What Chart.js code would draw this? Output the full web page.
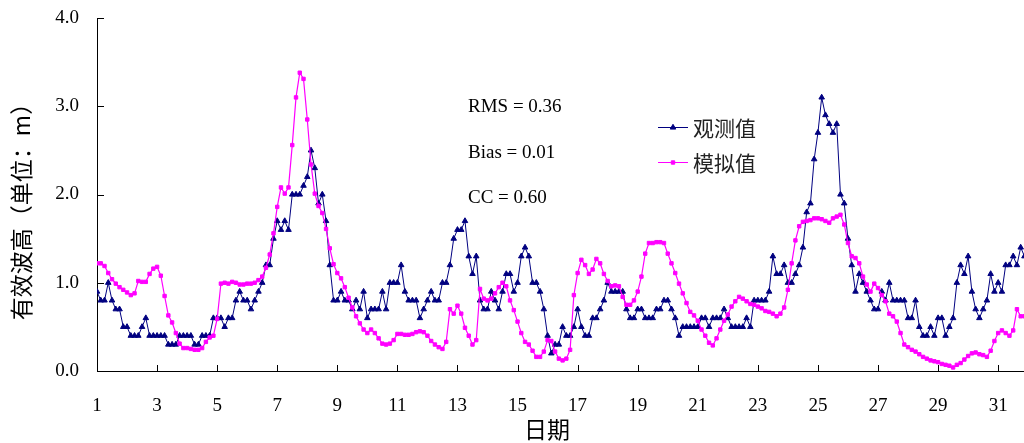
<!DOCTYPE html>
<html>
<head>
<meta charset="utf-8">
<script src="https://cdn.jsdelivr.net/npm/chart.js@4.4.1/dist/chart.umd.min.js"></script>
<style>
  html, body { margin: 0; padding: 0; background: #fff; }
  #wrap { width: 1024px; height: 443px; }
</style>
</head>
<body>
<div id="wrap"><canvas id="c" width="1024" height="443"></canvas></div>
<script>
// 3-hourly significant wave height (m), 8 samples per day starting on day 1
const observed = [
  0.9,0.8,0.8,1.0,0.8,0.7,0.7,0.5,
  0.5,0.4,0.4,0.4,0.5,0.6,0.4,0.4,
  0.4,0.4,0.4,0.3,0.3,0.3,0.4,0.4,
  0.4,0.4,0.3,0.3,0.4,0.4,0.4,0.6,
  0.6,0.6,0.5,0.6,0.6,0.8,0.9,0.8,
  0.8,0.7,0.8,0.9,1.0,1.2,1.2,1.5,
  1.7,1.6,1.7,1.6,2.0,2.0,2.0,2.1,
  2.2,2.5,2.3,1.9,2.0,1.7,1.2,0.8,
  0.8,0.9,0.8,0.8,0.7,0.8,0.7,0.9,
  0.6,0.7,0.7,0.7,0.9,0.7,1.0,1.0,
  1.0,1.2,0.9,0.8,0.8,0.8,0.6,0.7,
  0.8,0.9,0.8,0.8,1.0,1.0,1.2,1.5,
  1.6,1.6,1.7,1.3,1.1,1.3,0.8,0.7,
  0.7,0.9,0.8,0.7,0.9,1.1,1.1,0.9,
  1.0,1.3,1.4,1.3,1.0,1.0,0.9,0.7,
  0.4,0.2,0.3,0.3,0.5,0.4,0.4,0.5,
  0.7,0.5,0.4,0.4,0.6,0.6,0.7,0.8,
  1.0,0.9,0.9,0.9,0.9,0.7,0.6,0.6,
  0.7,0.7,0.6,0.6,0.6,0.7,0.7,0.8,
  0.8,0.7,0.6,0.4,0.5,0.5,0.5,0.5,
  0.5,0.6,0.6,0.5,0.6,0.6,0.6,0.7,
  0.6,0.5,0.5,0.5,0.5,0.6,0.5,0.8,
  0.8,0.8,0.8,0.9,1.3,1.1,1.1,1.2,
  1.0,1.0,1.1,1.2,1.4,1.8,1.9,2.4,
  2.7,3.1,2.9,2.8,2.7,2.8,2.0,1.9,
  1.5,1.2,0.9,1.1,1.0,0.9,0.8,0.7,
  0.7,0.9,0.8,1.0,0.8,0.8,0.8,0.8,
  0.6,0.6,0.8,0.5,0.4,0.4,0.5,0.4,
  0.6,0.6,0.4,0.5,0.6,1.0,1.2,1.1,
  1.3,0.9,0.7,0.6,0.7,0.8,1.1,0.9,
  1.0,0.9,1.2,1.2,1.3,1.2,1.4,1.3
];

const simulated = [
  1.22,1.22,1.19,1.11,1.04,0.99,0.95,0.92,
  0.89,0.86,0.88,1.02,1.01,1.01,1.10,1.16,
  1.18,1.08,0.85,0.63,0.55,0.43,0.31,0.26,
  0.26,0.25,0.24,0.24,0.26,0.33,0.38,0.40,
  0.59,0.99,1.00,0.99,1.01,1.00,0.98,0.98,
  0.99,0.99,1.00,1.03,1.07,1.17,1.32,1.56,
  1.86,2.08,2.01,2.08,2.56,3.10,3.38,3.31,
  2.85,2.34,2.01,1.87,1.79,1.61,1.39,1.21,
  1.11,1.05,0.95,0.83,0.72,0.62,0.54,0.47,
  0.43,0.47,0.43,0.37,0.31,0.30,0.31,0.35,
  0.42,0.42,0.41,0.41,0.42,0.44,0.45,0.44,
  0.40,0.34,0.30,0.27,0.25,0.33,0.70,0.65,
  0.74,0.65,0.49,0.40,0.30,0.35,0.93,0.82,
  0.80,0.82,0.88,0.95,1.00,0.96,0.80,0.69,
  0.56,0.43,0.33,0.30,0.23,0.16,0.16,0.22,
  0.35,0.34,0.22,0.14,0.12,0.14,0.24,0.86,
  1.11,1.26,1.20,1.10,1.15,1.27,1.22,1.10,
  1.02,0.96,0.97,0.96,0.84,0.75,0.75,0.80,
  0.90,1.07,1.33,1.45,1.45,1.46,1.46,1.45,
  1.33,1.22,1.11,0.99,0.88,0.77,0.67,0.63,
  0.57,0.47,0.40,0.32,0.29,0.37,0.47,0.57,
  0.64,0.73,0.79,0.84,0.82,0.79,0.76,0.75,
  0.73,0.71,0.68,0.67,0.65,0.62,0.65,0.72,
  0.92,1.22,1.48,1.64,1.69,1.70,1.71,1.73,
  1.73,1.72,1.70,1.68,1.73,1.75,1.77,1.66,
  1.45,1.30,1.28,1.22,1.07,0.98,0.90,0.99,
  0.94,0.86,0.79,0.65,0.62,0.56,0.43,0.30,
  0.27,0.24,0.22,0.19,0.16,0.14,0.12,0.11,
  0.10,0.08,0.07,0.06,0.04,0.07,0.09,0.13,
  0.17,0.20,0.21,0.19,0.18,0.16,0.23,0.34,
  0.43,0.46,0.43,0.40,0.46,0.70,0.62,0.62
];

const samplesPerDay = 8;
const firstDay = 1;
const dayTicks = [1, 3, 5, 7, 9, 11, 13, 15, 17, 19, 21, 23, 25, 27, 29, 31];
const heightTicks = [0, 1, 2, 3, 4];
const seriesNames = ['观测值', '模拟值'];
const statLines = ['RMS = 0.36', 'Bias = 0.01', 'CC = 0.60'];
const xTitle = '日期';
const yTitle = '有效波高（单位：m）';

const NAVY = '#000080';
const MAGENTA = '#ff00ff';
const SERIF = '"Liberation Serif", "Times New Roman", serif';
const CJK = '"Noto Sans CJK SC", sans-serif';

const toPoints = arr => arr.map((v, i) => ({ x: firstDay + i / samplesPerDay, y: v }));

const markerStyle = {
  obs: { pointStyle: 'triangle', radius: 3.2, borderWidth: 1 },
  sim: { pointStyle: 'rect', radius: 2.4, borderWidth: 1 }
};

// inward tick marks, statistics block, legend and axis captions
const decorations = {
  id: 'decorations',
  beforeDatasetsDraw(chart) {
    const { ctx, chartArea, scales } = chart;
    ctx.save();
    ctx.strokeStyle = '#000';
    ctx.lineWidth = 1;
    ctx.beginPath();
    heightTicks.forEach(v => {
      if (v === 0) return;
      const y = Math.round(scales.y.getPixelForValue(v)) + 0.5;
      ctx.moveTo(chartArea.left, y);
      ctx.lineTo(chartArea.left + 7, y);
    });
    dayTicks.forEach(d => {
      if (d === firstDay) return;
      const x = Math.round(scales.x.getPixelForValue(d)) + 0.5;
      ctx.moveTo(x, chartArea.bottom);
      ctx.lineTo(x, chartArea.bottom - 6);
    });
    ctx.stroke();
    ctx.restore();
  },
  afterDraw(chart) {
    const { ctx } = chart;
    ctx.save();
    // statistics
    ctx.fillStyle = '#000';
    ctx.font = '19px ' + SERIF;
    ctx.textAlign = 'left';
    ctx.textBaseline = 'middle';
    const statY = [107, 153, 198];
    statLines.forEach((t, k) => ctx.fillText(t, 468, statY[k]));

    // legend
    const rows = [
      { name: seriesNames[0], color: NAVY, m: markerStyle.obs, y: 127 },
      { name: seriesNames[1], color: MAGENTA, m: markerStyle.sim, y: 162 }
    ];
    rows.forEach(r => {
      ctx.strokeStyle = r.color;
      ctx.fillStyle = r.color;
      ctx.lineWidth = 1;
      ctx.beginPath();
      ctx.moveTo(658, r.y + 0.5);
      ctx.lineTo(688, r.y + 0.5);
      ctx.stroke();
      Chart.helpers.drawPoint(ctx, {
        pointStyle: r.m.pointStyle, radius: r.m.radius, borderWidth: r.m.borderWidth, rotation: 0
      }, 673, r.y + 0.5);
      ctx.fillStyle = '#222';
      ctx.font = '21px ' + CJK;
      ctx.textAlign = 'left';
      ctx.textBaseline = 'middle';
      ctx.fillText(r.name, 693, r.y + 1);
    });

    // axis captions
    ctx.fillStyle = '#000';
    ctx.font = '23px ' + CJK;
    ctx.textAlign = 'center';
    ctx.textBaseline = 'middle';
    ctx.fillText(xTitle, 547, 429);

    ctx.translate(21, 206);
    ctx.rotate(-Math.PI / 2);
    ctx.fillText(yTitle, 0, 0);
    ctx.restore();
  }
};

new Chart(document.getElementById('c'), {
  type: 'line',
  data: {
    datasets: [
      {
        label: seriesNames[1],
        data: toPoints(simulated),
        borderColor: MAGENTA,
        backgroundColor: MAGENTA,
        borderWidth: 1.2,
        pointStyle: markerStyle.sim.pointStyle,
        pointRadius: markerStyle.sim.radius,
        pointBorderWidth: markerStyle.sim.borderWidth,
        tension: 0,
        order: 1
      },
      {
        label: seriesNames[0],
        data: toPoints(observed),
        borderColor: NAVY,
        backgroundColor: NAVY,
        borderWidth: 1,
        pointStyle: markerStyle.obs.pointStyle,
        pointRadius: markerStyle.obs.radius,
        pointBorderWidth: markerStyle.obs.borderWidth,
        tension: 0,
        order: 2
      }
    ]
  },
  options: {
    responsive: false,
    animation: false,
    devicePixelRatio: 1,
    events: [],
    layout: { autoPadding: false, padding: { top: 18, left: 0, right: 0, bottom: 0 } },
    plugins: { legend: { display: false }, tooltip: { enabled: false } },
    scales: {
      x: {
        type: 'linear',
        min: 1,
        max: 31.86,
        afterBuildTicks: s => { s.ticks = dayTicks.map(v => ({ value: v })); },
        afterFit: s => { s.height = 72; s.paddingLeft = 0; s.paddingRight = 0; },
        grid: { display: false, drawTicks: false },
        border: { display: true, color: '#000', width: 1 },
        ticks: {
          autoSkip: false, maxRotation: 0, padding: 24, color: '#000',
          font: { family: SERIF, size: 19 }
        }
      },
      y: {
        min: 0,
        max: 4,
        afterBuildTicks: s => { s.ticks = heightTicks.map(v => ({ value: v })); },
        afterFit: s => { s.width = 97; s.paddingTop = 0; s.paddingBottom = 0; },
        grid: { display: false, drawTicks: false },
        border: { display: true, color: '#000', width: 1 },
        ticks: {
          padding: 18, color: '#000',
          font: { family: SERIF, size: 19 },
          callback: v => v.toFixed(1)
        }
      }
    }
  },
  plugins: [decorations]
});
</script>
</body>
</html>
